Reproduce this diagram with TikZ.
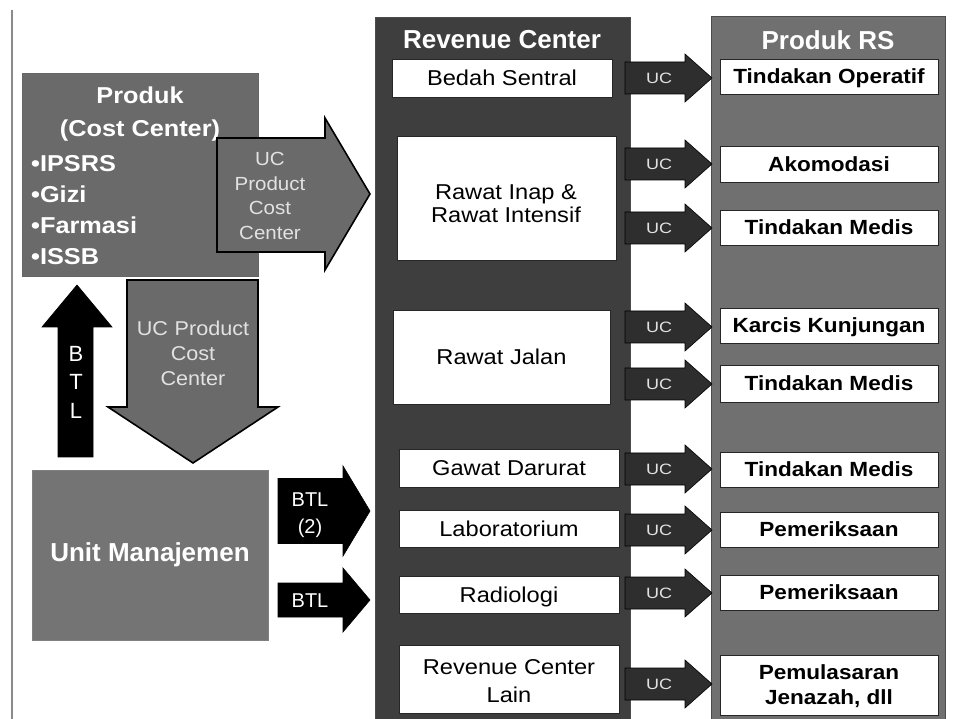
\documentclass[tikz,border=0pt]{standalone}
\usepackage{fontspec}
\setmainfont{Liberation Sans}
\newfontfamily\wideA[FakeStretch=1.1]{Liberation Sans}
\newfontfamily\wideB[FakeStretch=1.08]{Liberation Sans}
\newfontfamily\wideC[FakeStretch=1.2]{Liberation Sans}
\definecolor{revcol}{HTML}{3E3E3E}
\definecolor{prodcol}{HTML}{707070}
\definecolor{ccfill}{HTML}{6A6A6A}
\definecolor{umfill}{HTML}{747474}
\definecolor{ucfill}{HTML}{2E2E2E}
\definecolor{arrtext}{HTML}{E2E2E2}
\definecolor{edgegray}{HTML}{8A8A8A}
% right-pointing block arrow: style, x0, xneck, xtip, ycentre, body half, head half
\newcommand{\rblk}[7]{\path[#1] (#2,#5-#6) -- (#3,#5-#6) -- (#3,#5-#7) -- (#4,#5) -- (#3,#5+#7) -- (#3,#5+#6) -- (#2,#5+#6) -- cycle;}
\begin{document}
\begin{tikzpicture}[x=1pt,y=-1pt,
  column/.style={draw=black!70, line width=0.8pt, inner sep=0pt},
  wbox/.style={draw=black!85, line width=0.8pt, fill=white, inner sep=0pt},
  rtext/.style={font=\wideA\fontsize{21.5}{24}\selectfont, text height=15.5pt, text depth=0pt},
  ptext/.style={font=\wideA\bfseries\fontsize{20.5}{24}\selectfont, text height=14.8pt, text depth=0pt},
  rmulti/.style={font=\wideA\fontsize{21.5}{23}\selectfont, align=center, inner sep=0pt},
  head/.style={font=\bfseries\fontsize{26}{28}\selectfont, text=white},
  arrlabel/.style={font=\wideB\fontsize{19}{24.5}\selectfont, text=arrtext, align=center, inner sep=0pt},
  btltext/.style={font=\fontsize{20}{27}\selectfont, text=white, align=center, inner sep=0pt},
  uctext/.style={font=\wideC\fontsize{15}{18}\selectfont, text=arrtext, inner sep=0pt},
  ucarrow/.style={fill=ucfill, draw=black, line width=0.6pt},
  bigarrow/.style={fill=ccfill, draw=black, line width=1.6pt, line join=miter},
  blackarrow/.style={fill=black, draw=black, line width=0.6pt}
]
\useasboundingbox (0,0) rectangle (954,719);
\fill[white] (0,0) rectangle (954,719);

% left rule
\coordinate (lt) at (12,10);
\coordinate (lb) at (12,719);
\draw[edgegray, line width=1.4pt] (lt) -- (lb);

% columns
\node[column, fill=revcol, minimum width=255pt, minimum height=702pt] (rc) at (502.5,368) {};
\node[column, fill=prodcol, minimum width=234pt, minimum height=703pt] (pr) at (828,367.5) {};
\node[head] (rch) at (502,40) {Revenue Center};
\node[head] (prh) at (828,40) {Produk RS};

% revenue centre boxes
\node[wbox, rtext, minimum width=220pt, minimum height=38pt] (bs) at (502,78) {Bedah Sentral};
\node[wbox, minimum width=219pt, minimum height=124pt] (ri) at (506.5,198) {};
\node[rmulti] (rit) at (506,203.5) {Rawat Inap \&\\Rawat Intensif};
\node[wbox, rtext, minimum width=217pt, minimum height=94pt] (rj) at (501.5,357) {Rawat Jalan};
\node[wbox, rtext, minimum width=220pt, minimum height=38pt] (gd) at (509,468) {Gawat Darurat};
\node[wbox, rtext, minimum width=220pt, minimum height=37pt] (lab) at (509,528.5) {Laboratorium};
\node[wbox, rtext, minimum width=220pt, minimum height=37pt] (rad) at (509,594.5) {Radiologi};
\node[wbox, minimum width=220pt, minimum height=68pt] (rcl) at (509,679) {};
\node[rmulti, font=\wideA\fontsize{21.5}{28}\selectfont] (rclt) at (509,681) {Revenue Center\\Lain};

% product boxes
\node[wbox, ptext, minimum width=218pt, minimum height=35pt] (to) at (829,76.5) {Tindakan Operatif};
\node[wbox, ptext, minimum width=218pt, minimum height=36pt] (ak) at (829,164) {Akomodasi};
\node[wbox, ptext, minimum width=218pt, minimum height=35pt] (tma) at (829,227.5) {Tindakan Medis};
\node[wbox, ptext, minimum width=218pt, minimum height=35pt] (kk) at (829,325.5) {Karcis Kunjungan};
\node[wbox, ptext, minimum width=218pt, minimum height=37pt] (tmb) at (829,383.5) {Tindakan Medis};
\node[wbox, ptext, minimum width=218pt, minimum height=35pt] (tmc) at (829,469.5) {Tindakan Medis};
\node[wbox, ptext, minimum width=218pt, minimum height=35pt] (pea) at (829,529.5) {Pemeriksaan};
\node[wbox, ptext, minimum width=218pt, minimum height=35pt] (peb) at (829,592.5) {Pemeriksaan};
\node[wbox, minimum width=218pt, minimum height=60pt] (pj) at (829,685) {};
\node[font=\wideA\bfseries\fontsize{20.5}{25}\selectfont, align=center, inner sep=0pt] (pjt) at (829,686) {Pemulasaran\\Jenazah, dll};

% UC arrows
\foreach \yc/\nm in {78/a,164/b,228/c,327/d,384/e,469/f,530/g,593/h,684/i}{
  \rblk{ucarrow}{625}{685}{712}{\yc}{16}{24}
  \node[uctext] (uc\nm) at (659,\yc) {UC};
}

% Produk (Cost Center)
\node[draw=black!60, line width=0.6pt, fill=ccfill, minimum width=236pt, minimum height=203pt, inner sep=0pt] (pc) at (140,174.5) {};
\node[font=\wideA\bfseries\fontsize{23}{33}\selectfont, text=white, align=center, inner sep=0pt] (pct) at (140,114) {Produk\\(Cost Center)};
\node[font=\wideA\bfseries\fontsize{23}{31}\selectfont, text=white, align=left, anchor=west, inner sep=0pt] (pcl) at (31,210) {•IPSRS\\•Gizi\\•Farmasi\\•ISSB};

% big right arrow
\path[bigarrow] (217,138) -- (325,138) -- (325,118) -- (370,194) -- (325,270) -- (325,252) -- (217,252) -- cycle;
\node[arrlabel] (ucpc) at (270,196) {UC\\Product\\Cost\\Center};

% down arrow
\path[bigarrow] (127,280) -- (258,280) -- (258,407) -- (278,407) -- (193,463) -- (108,407) -- (127,407) -- cycle;
\node[arrlabel, font=\wideB\fontsize{20}{25}\selectfont, text width=130pt] (ucpd) at (193,353) {UC Product\\Cost\\Center};

% BTL up arrow
\path[blackarrow] (58,457) -- (58,327) -- (42,327) -- (77,285) -- (112,327) -- (93,327) -- (93,457) -- cycle;
\node[btltext, font=\fontsize{22}{28.5}\selectfont] (btlv) at (76,382) {B\\T\\L};

% Unit Manajemen
\node[draw=black!50, line width=0.6pt, fill=umfill, minimum width=236pt, minimum height=170pt, inner sep=0pt, font=\bfseries\fontsize{26}{28}\selectfont, text=white] (um) at (150,555) {Unit Manajemen};

% BTL arrows
\rblk{blackarrow}{278}{343}{370}{511}{32.5}{45}
\node[btltext] (btla) at (310,515) {BTL\\(2)};
\rblk{blackarrow}{278}{343}{370}{600}{17}{32}
\node[btltext, text height=14.5pt, text depth=0pt] (btlb) at (310,600) {BTL};
\end{tikzpicture}
\end{document}
